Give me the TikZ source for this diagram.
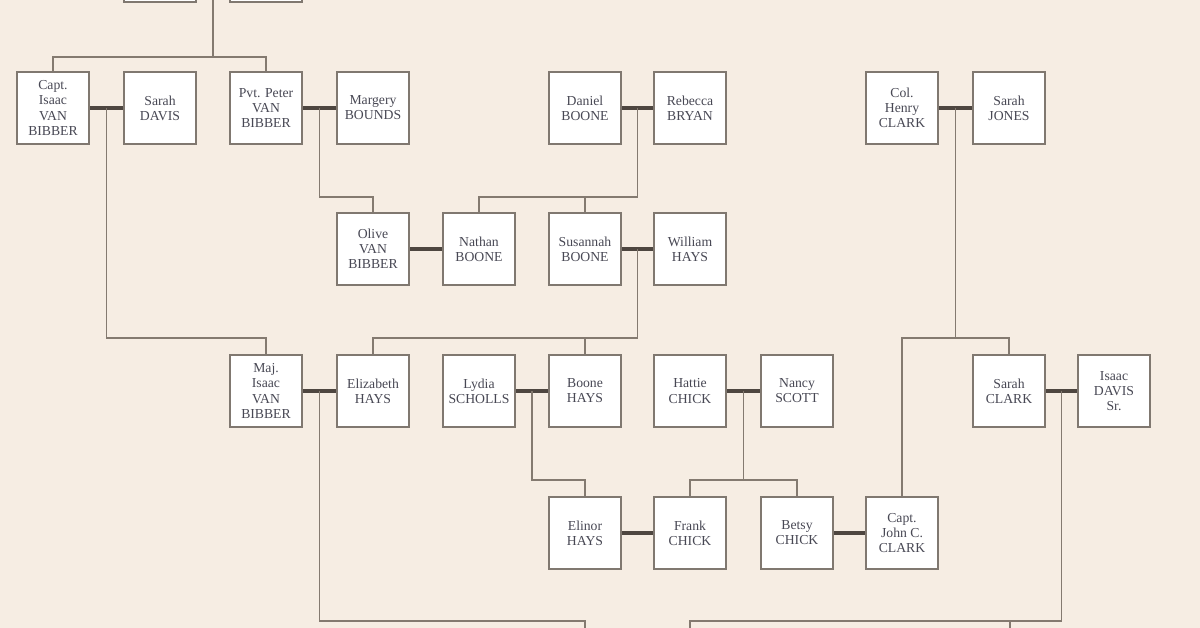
\documentclass[tikz,border=0pt]{standalone}
\usepackage{fontspec}
\setmainfont{Liberation Serif}
\definecolor{paper}{RGB}{246,237,227}
\definecolor{boxgray}{RGB}{128,120,112}
\definecolor{bargray}{RGB}{78,70,64}
\definecolor{linegray}{RGB}{132,122,112}
\definecolor{inkgray}{RGB}{72,72,84}
\begin{document}
\begin{tikzpicture}[x=0.02cm, y=-0.02cm,
	person/.style={draw=boxgray, line width=1.3pt, fill=white, minimum width=1.44cm, minimum height=1.44cm, inner sep=1pt, align=center, text=inkgray, font=\fontsize{7.8}{8.6}\selectfont},
	couple/.style={draw=bargray, line width=2.3pt},
	kin/.style={draw=linegray, line width=1.1pt}]
	\useasboundingbox (0,0) rectangle (1200,628);
	\fill[paper] (0,0) rectangle (1200,628);
	\clip (0,0) rectangle (1200,628);

	% top row, cut off
	\node[person] (ta) at (160,-34) {};
	\node[person] (tb) at (266,-34) {};

	\node[person] (capt) at (53,108) {Capt.\\Isaac\\VAN\\BIBBER};
	\node[person] (sdavis) at (160,108) {Sarah\\DAVIS};
	\node[person] (peter) at (266,108) {Pvt. Peter\\VAN\\BIBBER};
	\node[person] (margery) at (373,108) {Margery\\BOUNDS};
	\node[person] (daniel) at (585,108) {Daniel\\BOONE};
	\node[person] (rebecca) at (690,108) {Rebecca\\BRYAN};
	\node[person] (henry) at (902,108) {Col.\\Henry\\CLARK};
	\node[person] (sjones) at (1009,108) {Sarah\\JONES};

	\node[person] (olive) at (373,249) {Olive\\VAN\\BIBBER};
	\node[person] (nathan) at (479,249) {Nathan\\BOONE};
	\node[person] (susannah) at (585,249) {Susannah\\BOONE};
	\node[person] (william) at (690,249) {William\\HAYS};

	\node[person] (maj) at (266,391) {Maj.\\Isaac\\VAN\\BIBBER};
	\node[person] (elizabeth) at (373,391) {Elizabeth\\HAYS};
	\node[person] (lydia) at (479,391) {Lydia\\SCHOLLS};
	\node[person] (boone) at (585,391) {Boone\\HAYS};
	\node[person] (hattie) at (690,391) {Hattie\\CHICK};
	\node[person] (nancy) at (797,391) {Nancy\\SCOTT};
	\node[person] (sclark) at (1009,391) {Sarah\\CLARK};
	\node[person] (idavis) at (1114,391) {Isaac\\DAVIS\\Sr.};

	\node[person] (elinor) at (585,533) {Elinor\\HAYS};
	\node[person] (frank) at (690,533) {Frank\\CHICK};
	\node[person] (betsy) at (797,533) {Betsy\\CHICK};
	\node[person] (john) at (902,533) {Capt.\\John C.\\CLARK};

	% children below the picture
	\coordinate (kidA) at (585,640);
	\coordinate (kidB) at (690,640);
	\coordinate (kidC) at (1010,640);

	\draw[couple] (ta.east) -- (tb.west) coordinate[midway] (tab);
	\draw[couple] (capt.east) -- (sdavis.west) coordinate[midway] (cs);
	\draw[couple] (peter.east) -- (margery.west) coordinate[midway] (pm);
	\draw[couple] (daniel.east) -- (rebecca.west) coordinate[midway] (dr);
	\draw[couple] (henry.east) -- (sjones.west) coordinate[midway] (hs);
	\draw[couple] (olive.east) -- (nathan.west);
	\draw[couple] (susannah.east) -- (william.west) coordinate[midway] (sw);
	\draw[couple] (maj.east) -- (elizabeth.west) coordinate[midway] (me);
	\draw[couple] (lydia.east) -- (boone.west) coordinate[midway] (lb);
	\draw[couple] (hattie.east) -- (nancy.west) coordinate[midway] (hn);
	\draw[couple] (sclark.east) -- (idavis.west) coordinate[midway] (si);
	\draw[couple] (elinor.east) -- (frank.west);
	\draw[couple] (betsy.east) -- (john.west);

	\draw[kin] (tab) -- (tab |- 0,57) -| (capt.north);
	\draw[kin] (tab |- 0,57) -| (peter.north);
	\draw[kin] (pm) -- (pm |- 0,197) -| (olive.north);
	\draw[kin] (dr) -- (dr |- 0,197) -| (nathan.north);
	\draw[kin] (dr |- 0,197) -| (susannah.north);
	\draw[kin] (cs) -- (cs |- 0,338) -| (maj.north);
	\draw[kin] (sw) -- (sw |- 0,338) -| (elizabeth.north);
	\draw[kin] (sw |- 0,338) -| (boone.north);
	\draw[kin] (hs) -- (hs |- 0,338) -| (john.north);
	\draw[kin] (hs |- 0,338) -| (sclark.north);
	\draw[kin] (lb) -- (lb |- 0,480) -| (elinor.north);
	\draw[kin] (hn) -- (hn |- 0,480) -| (frank.north);
	\draw[kin] (hn |- 0,480) -| (betsy.north);
	\draw[kin] (me) -- (me |- 0,621) -| (kidA);
	\draw[kin] (si) -- (si |- 0,621) -| (kidB);
	\draw[kin] (si |- 0,621) -| (kidC);
\end{tikzpicture}
\end{document}
